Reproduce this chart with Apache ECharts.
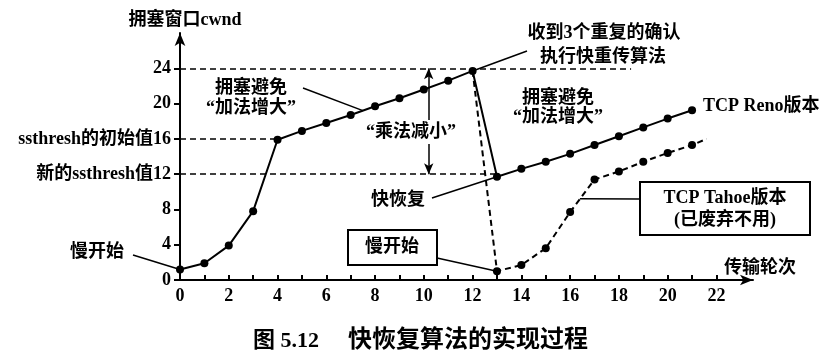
<!DOCTYPE html>
<html>
<head>
<meta charset="utf-8">
<script src="https://cdn.jsdelivr.net/npm/echarts@6/dist/echarts.min.js"></script>
<style>
  html, body { margin: 0; padding: 0; background: #fff; }
  #main { width: 836px; height: 355px; }
</style>
</head>
<body>
<div id="main"></div>
<script>
// 传输轮次 / cwnd 数据
var renoX = [0, 1, 2, 3, 4, 5, 6, 7, 8, 9, 10, 11, 12, 13, 14, 15, 16, 17, 18, 19, 20, 21];
var renoY = [1.2, 1.9, 3.9, 7.8, 15.9, 16.9, 17.8, 18.7, 19.7, 20.6, 21.6, 22.6, 23.7,
             11.7, 12.6, 13.4, 14.3, 15.3, 16.3, 17.3, 18.3, 19.25];
var tahoeX = [12, 13, 14, 15, 16, 17, 18, 19, 20, 21, 21.6];
var tahoeY = [23.7, 1, 1.7, 3.6, 7.7, 11.4, 12.3, 13.4, 14.4, 15.3, 16];
var xLabels = [0, 2, 4, 6, 8, 10, 12, 14, 16, 18, 20, 22];
var xTicks = [1, 2, 3, 4, 5, 6, 7, 8, 9, 10, 11, 12, 13, 14, 15, 16, 17, 18, 19, 20, 21, 22];
var yLabels = [0, 4, 8, 12, 16, 20, 24];
var yNames = { 16: 'ssthresh的初始值16', 12: '新的ssthresh值12' };
// 虚线参考线: [y, 到哪个x为止]
var guideLines = [[24, 18.5], [16, 4], [12, 13]];
// “乘法减小” 双箭头 [x, 从y, 到y]
var halveArrow = [10.2, 24, 12];

var FONT = '"Liberation Serif", "Noto Sans CJK SC", serif';

var myChart = echarts.init(document.getElementById('main'));

var renoData = renoX.map(function (x, i) { return [x, renoY[i]]; });
var tahoeData = tahoeX.map(function (x, i) {
  var item = { value: [x, tahoeY[i]] };
  if (i === 0 || i === tahoeX.length - 1) item.symbol = 'none';
  return item;
});

var markData = guideLines.map(function (g) {
  return [{ coord: [0, g[0]] }, { coord: [g[1], g[0]] }];
});

myChart.setOption({
  animation: false,
  grid: { left: 180, right: 83, top: 33, bottom: 75, containLabel: false, outerBoundsMode: 'none' },
  xAxis: {
    type: 'value',
    min: 0,
    max: 23.5,
    splitLine: { show: false },
    axisLine: { symbol: ['none', 'arrow'], symbolSize: [8, 13], lineStyle: { color: '#000', width: 2 } },
    axisTick: { inside: true, length: 5, lineStyle: { color: '#000', width: 2 }, customValues: xTicks },
    axisLabel: { customValues: xLabels, color: '#000', fontSize: 18, fontWeight: 'bold', fontFamily: FONT, margin: 7 }
  },
  yAxis: {
    type: 'value',
    min: 0,
    max: 28,
    splitLine: { show: false },
    axisLine: { symbol: ['none', 'arrow'], symbolSize: [8, 13], lineStyle: { color: '#000', width: 2 } },
    axisTick: { length: 6, lineStyle: { color: '#000', width: 2 }, customValues: yLabels },
    axisLabel: {
      customValues: yLabels,
      color: '#000', fontSize: 18, fontWeight: 'bold', fontFamily: FONT, margin: 9,
      formatter: function (v) { return yNames[v] || String(v); }
    }
  },
  series: [
    {
      name: 'TCP Reno',
      type: 'line',
      data: renoData,
      symbol: 'circle',
      symbolSize: 8,
      itemStyle: { color: '#000' },
      lineStyle: { color: '#000', width: 2 },
      z: 5,
      markLine: {
        silent: true,
        symbol: 'none',
        label: { show: false },
        lineStyle: { color: '#000', width: 1.5, type: [6, 4] },
        data: markData.concat([[
          { coord: [halveArrow[0], halveArrow[1]], symbol: 'arrow', symbolSize: [7, 11], lineStyle: { type: 'solid' } },
          { coord: [halveArrow[0], halveArrow[2]], symbol: 'arrow', symbolSize: [7, 11] }
        ]])
      }
    },
    {
      name: 'TCP Tahoe',
      type: 'line',
      data: tahoeData,
      symbol: 'circle',
      symbolSize: 8,
      itemStyle: { color: '#000' },
      lineStyle: { color: '#000', width: 2, type: [6, 4] },
      z: 4
    }
  ]
});

// 注释: 文字位置(像素) + 指向的数据点
function px(p) { return myChart.convertToPixel({ gridIndex: 0 }, p); }
function txt(s, x, y, opt) {
  opt = opt || {};
  return {
    type: 'text', z: 100,
    style: {
      text: s, x: x, y: y, fill: '#000',
      font: 'bold ' + (opt.size || 18) + 'px ' + FONT,
      align: opt.align || 'center', verticalAlign: 'middle',
      backgroundColor: opt.bg, padding: opt.pad
    }
  };
}
function leader(x, y, p) {
  var q = px(p);
  return { type: 'line', z: 90, shape: { x1: x, y1: y, x2: q[0], y2: q[1] }, style: { stroke: '#000', lineWidth: 1.5 } };
}
function box(x, y, w, h) {
  return { type: 'rect', z: 95, shape: { x: x, y: y, width: w, height: h }, style: { fill: '#fff', stroke: '#000', lineWidth: 2 } };
}

myChart.setOption({
  graphic: [
    txt('拥塞窗口cwnd', 185, 20),
    txt('拥塞避免', 251, 88),
    txt('“加法增大”', 251, 108),
    leader(303, 88, [7.5, 19.2]),
    txt('收到3个重复的确认', 604, 33),
    txt('执行快重传算法', 603, 57),
    leader(527, 51, [12, 23.7]),
    txt('拥塞避免', 558, 98),
    txt('“加法增大”', 558, 117),
    txt('“乘法减小”', 411, 132, { bg: '#fff', pad: [3, 0] }),
    txt('TCP Reno版本', 703, 106, { align: 'left' }),
    txt('快恢复', 398, 200),
    leader(432, 198, [13, 11.7]),
    box(348, 230, 89, 35),
    txt('慢开始', 392, 247),
    leader(437, 258, [13, 1]),
    txt('慢开始', 97, 252),
    leader(133, 255, [0, 1.2]),
    leader(640, 199, [16.4, 9.2]),
    box(640, 182, 170, 53),
    txt('TCP Tahoe版本', 725, 198),
    txt('(已废弃不用)', 725, 220),
    txt('传输轮次', 760, 268),
    txt('图 5.12', 253, 341, { size: 22, align: 'left' }),
    txt('快恢复算法的实现过程', 348, 341, { size: 24, align: 'left' })
  ]
});
</script>
</body>
</html>
